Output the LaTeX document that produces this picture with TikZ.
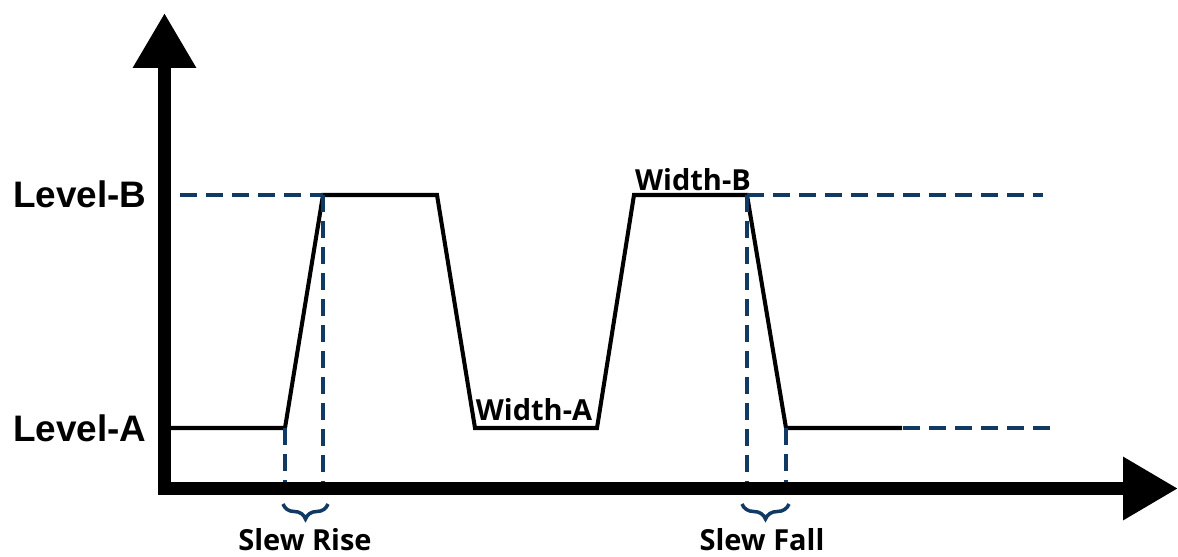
\documentclass[tikz,border=0pt]{standalone}
\usepackage{fontspec}
\setmainfont{Liberation Sans}
\newfontfamily\lblfont{Open Sans}
\usetikzlibrary{arrows.meta, decorations.pathreplacing}
\definecolor{guideblue}{RGB}{16,58,99}

\begin{document}
\begin{tikzpicture}[x=0.02cm, y=-0.02cm,
    axisline/.style={line width=0.26cm, -{Triangle[length=1.1cm, width=1.2cm]}},
    sig/.style={line width=2.3pt, line join=miter},
    guide/.style={guideblue, line width=2.5pt, dash pattern=on 0.34cm off 0.18cm},
    slewbrace/.style={guideblue, line width=2pt, decorate, decoration={brace, amplitude=0.3cm}},
    levellbl/.style={font=\bfseries\fontsize{21}{24}\selectfont},
    smalllbl/.style={font=\lblfont\bfseries\fontsize{16.5}{19}\selectfont}]

        \useasboundingbox (0,0) rectangle (1178,556);

        % ------------------ Axes ------------------
        \draw[axisline] (164.5,495) -- (164.5,13);
        \draw[axisline] (158,488.5) -- (1178,488.5);

        % ------------------ Signal ------------------
        \coordinate (s0) at (170,428);
        \coordinate (r1) at (285,428);
        \coordinate (r2) at (323,195);
        \coordinate (f1) at (437,195);
        \coordinate (f2) at (475,428);
        \coordinate (r3) at (597,428);
        \coordinate (r4) at (634,195);
        \coordinate (f3) at (747,195);
        \coordinate (f4) at (786,428);
        \coordinate (s1) at (902,428);

        \draw[sig] (s0) -- (r1) -- (r2) -- (f1) -- (f2) -- (r3) -- (r4) -- (f3) -- (f4) -- (s1);

        % ------------------ Guide lines ------------------
        \coordinate (lbstart) at (180,195);
        \coordinate (lbend) at (1043,195);
        \coordinate (laend) at (1050,428);

        \draw[guide] (lbstart) -- (r2);
        \draw[guide] (f3) -- (lbend);
        \draw[guide] (903,428) -- (laend);

        \draw[guide] (r1) -- (r1 |- 0,482);
        \draw[guide] (r2) -- (r2 |- 0,482);
        \draw[guide] (f3) -- (f3 |- 0,482);
        \draw[guide] (f4) -- (f4 |- 0,482);

        % Braces
        \draw[slewbrace] (328,504) -- (283,504);
        \draw[slewbrace] (789,504) -- (742,504);

        % ------------------ Labels ------------------
        \node[levellbl] (levb) at (80,194) {Level-B};
        \node[levellbl] (leva) at (80,428) {Level-A};
        \node[smalllbl] (wida) at (534,410) {Width-A};
        \node[smalllbl] (widb) at (693,180) {Width-B};
        \node[smalllbl, anchor=base] (srise) at (305,550) {Slew Rise};
        \node[smalllbl, anchor=base] (sfall) at (762,550) {Slew Fall};

    \end{tikzpicture}
\end{document}
